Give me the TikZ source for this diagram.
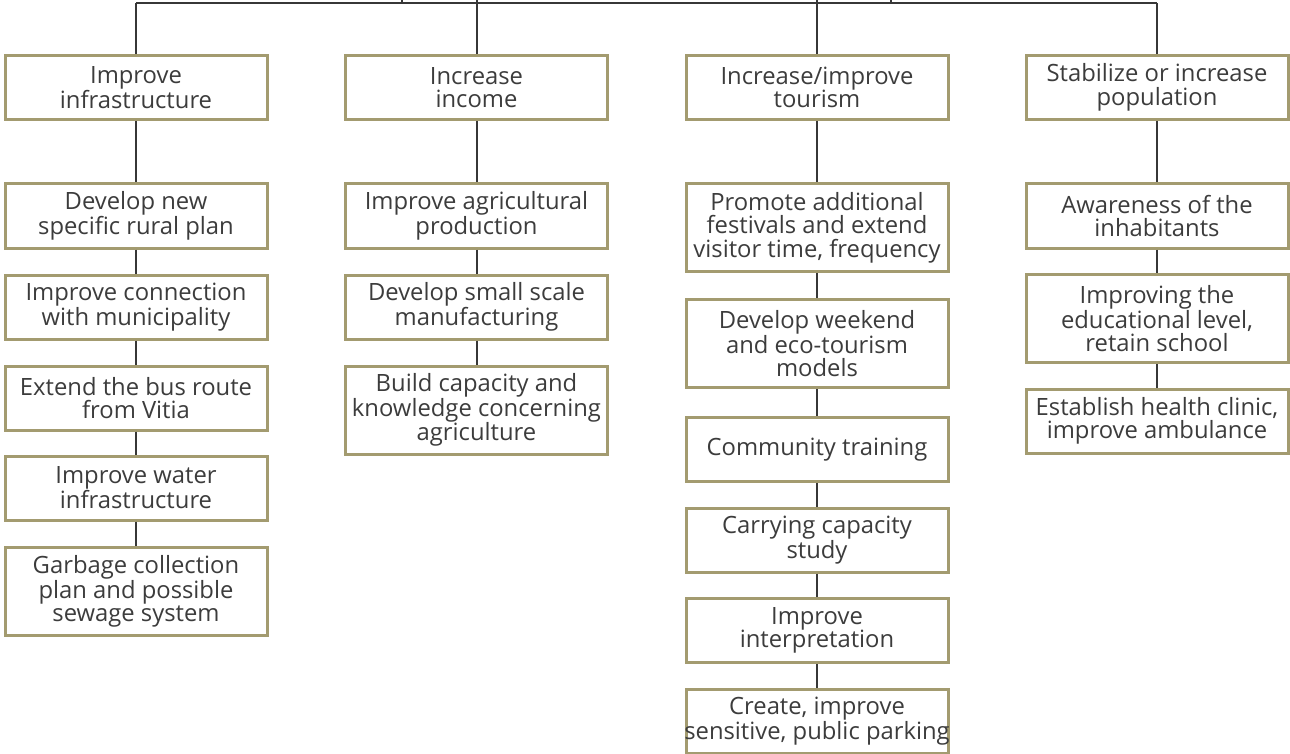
\documentclass[tikz,border=0pt]{standalone}
\usepackage{fontspec}
\setmainfont{Open Sans}
\definecolor{boxborder}{RGB}{163,155,112}
\definecolor{txt}{RGB}{60,60,60}
\definecolor{conn}{RGB}{55,55,55}
\begin{document}
\begin{tikzpicture}[x=1pt,y=-1pt,
  box/.style={draw=boxborder, line width=3pt, fill=white, minimum width=262pt,
    inner sep=0pt, align=center, text=txt,
    font=\fontsize{23.8}{23.5}\selectfont},
  h2/.style={box, minimum height=64pt},
  h3/.style={box, minimum height=88pt},
  link/.style={draw=conn, line width=2pt}]
\useasboundingbox (0,0) rectangle (1290,754);
% free ends of the top bar
\coordinate (tl) at (136,3);
\coordinate (tr) at (1157,3);
\coordinate (t2) at (476.5,0);
\coordinate (t3) at (817,0);
\coordinate (p1) at (402,0);
\coordinate (p1b) at (402,3);
\coordinate (p2) at (891,0);
\coordinate (p2b) at (891,3);
% column 1
\node[h2] (a0) at (136,87.5) {Improve\\infrastructure};
\node[h2] (a1) at (136,216) {Develop new\\specific rural plan};
\node[h2] (a2) at (136,307) {Improve connection\\with municipality};
\node[h2] (a3) at (136,398) {Extend the bus route\\from Vitia};
\node[h2] (a4) at (136,488) {Improve water\\infrastructure};
\node[h3] (a5) at (136,591.5) {Garbage collection\\plan and possible\\sewage system};
% column 2
\node[h2] (b0) at (476.5,87.5) {Increase\\income};
\node[h2] (b1) at (476.5,216) {Improve agricultural\\production};
\node[h2] (b2) at (476.5,307) {Develop small scale\\manufacturing};
\node[h3] (b3) at (476.5,410) {Build capacity and\\knowledge concerning\\agriculture};
% column 3
\node[h2] (c0) at (817,87.5) {Increase/improve\\tourism};
\node[h3] (c1) at (817,227.5) {Promote additional\\festivals and extend\\visitor time, frequency};
\node[h3] (c2) at (817,343.5) {Develop weekend\\and eco-tourism\\models};
\node[h2] (c3) at (817,449.5) {Community training};
\node[h2] (c4) at (817,540) {Carrying capacity\\study};
\node[h2] (c5) at (817,630.5) {Improve\\interpretation};
\node[h2] (c6) at (817,721) {Create, improve\\\makebox[240pt][c]{sensitive, public parking}};
% column 4
\node[h2] (d0) at (1157,87.5) {Stabilize or increase\\population};
\node[h2] (d1) at (1157,216) {Awareness of the\\inhabitants};
\node[h3] (d2) at (1157,318.5) {Improving the\\educational level,\\retain school};
\node[h2] (d3) at (1157,421) {Establish health clinic,\\improve ambulance};
% connectors
\draw[link] (tl) -- (tr);
\draw[link] (p1) -- (p1b);
\draw[link] (p2) -- (p2b);
\draw[link] (tl) -- (a0.north);
\draw[link] (t2) -- (b0.north);
\draw[link] (t3) -- (c0.north);
\draw[link] (tr) -- (d0.north);
\draw[link] (a0) -- (a1);
\draw[link] (a1) -- (a2);
\draw[link] (a2) -- (a3);
\draw[link] (a3) -- (a4);
\draw[link] (a4) -- (a5);
\draw[link] (b0) -- (b1);
\draw[link] (b1) -- (b2);
\draw[link] (b2) -- (b3);
\draw[link] (c0) -- (c1);
\draw[link] (c1) -- (c2);
\draw[link] (c2) -- (c3);
\draw[link] (c3) -- (c4);
\draw[link] (c4) -- (c5);
\draw[link] (c5) -- (c6);
\draw[link] (d0) -- (d1);
\draw[link] (d1) -- (d2);
\draw[link] (d2) -- (d3);
\end{tikzpicture}
\end{document}
